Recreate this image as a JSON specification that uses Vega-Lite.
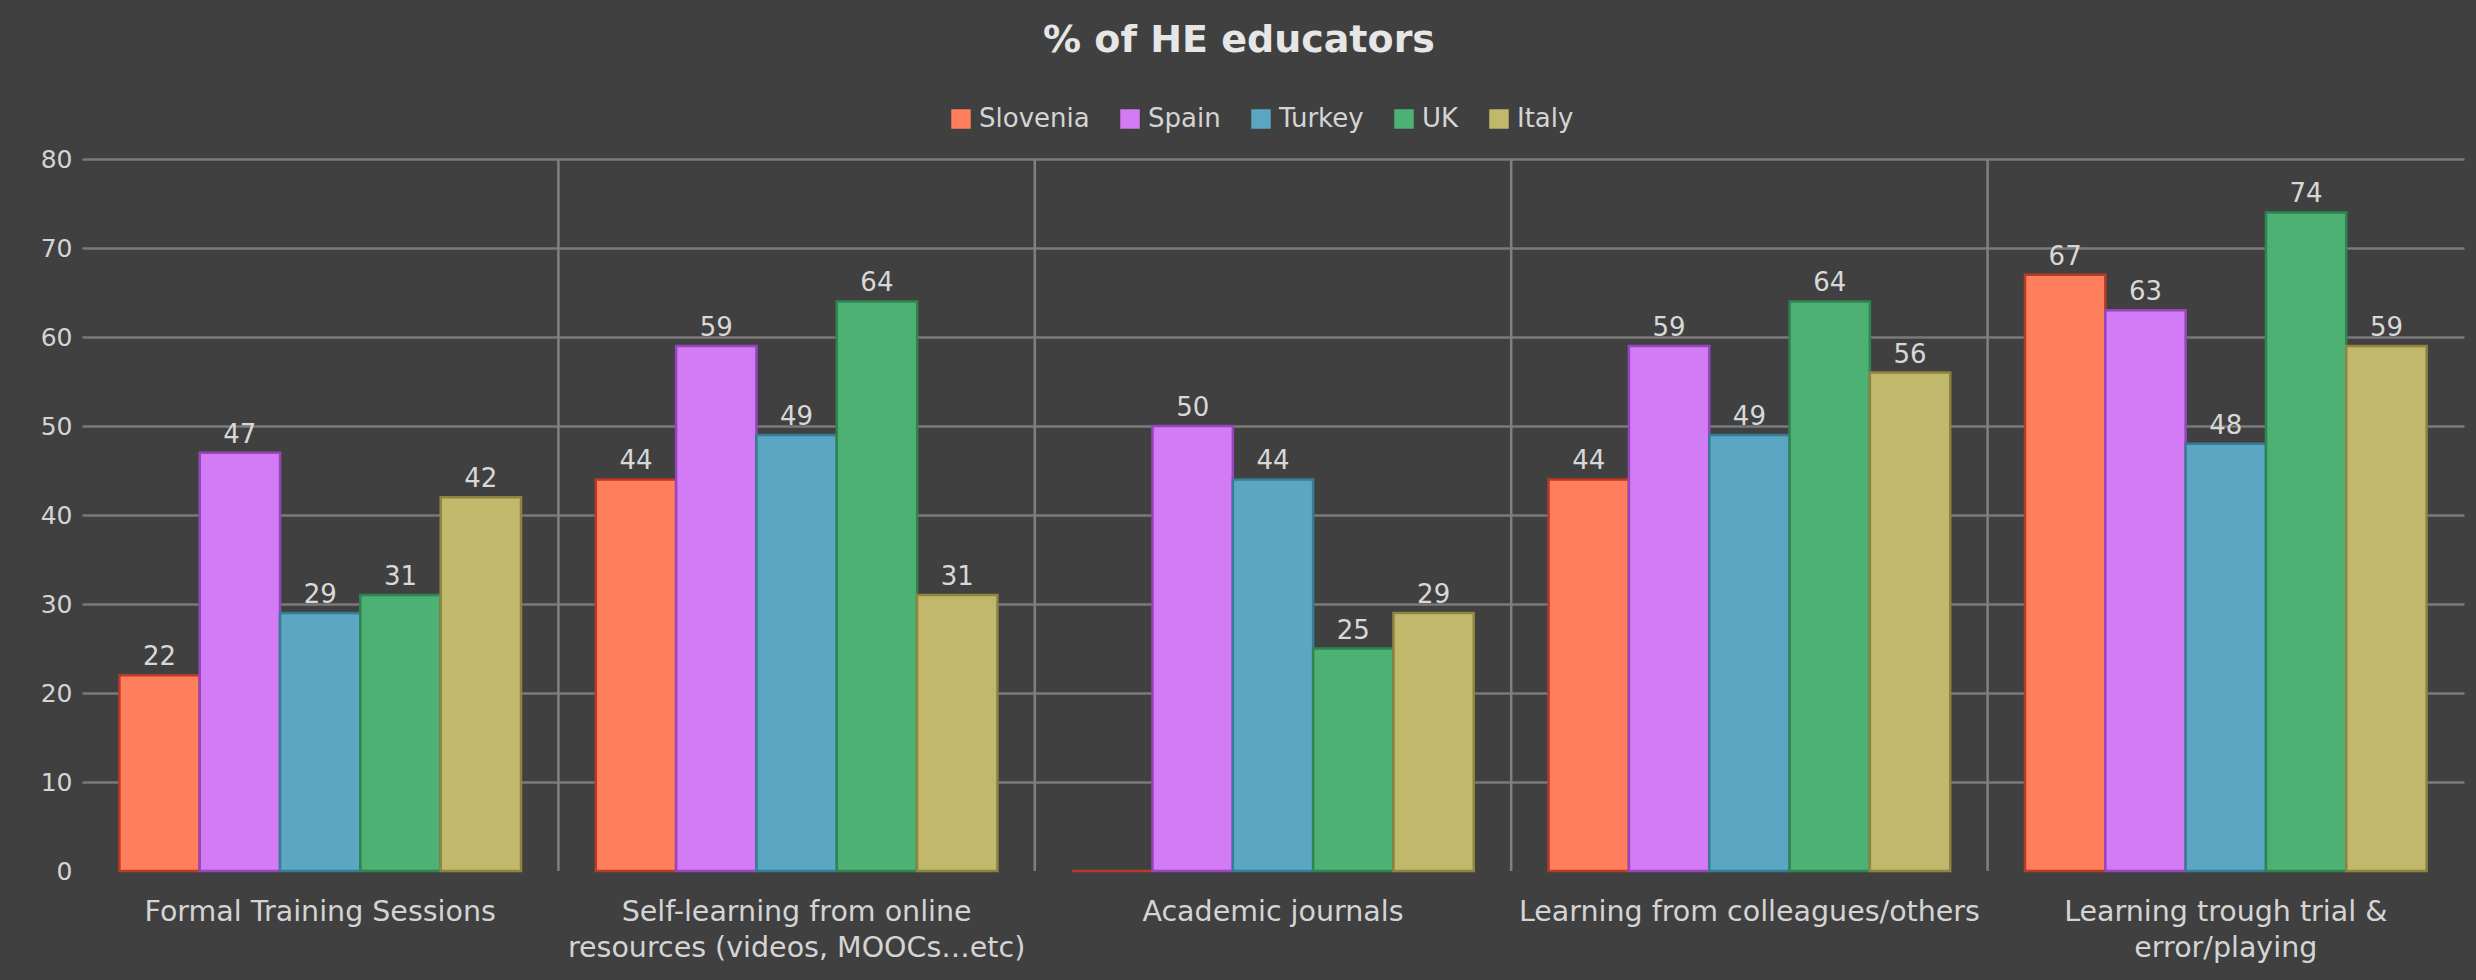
{
  "$schema": "https://vega.github.io/schema/vega-lite/v6.json",
  "autosize": {"type": "none"},
  "width": 2382,
  "height": 712,
  "padding": {"left": 82, "top": 159, "right": 12, "bottom": 109},
  "background": "#404040",
  "title": {
    "text": "% of HE educators",
    "fontSize": 38,
    "font": "DejaVu Sans",
    "fontWeight": "bold",
    "color": "#e6e6e6",
    "anchor": "middle",
    "frame": "group",
    "offset": 46,
    "dx": -34
  },
  "data": {
    "values": [
      {"category": "Formal Training Sessions", "country": "Slovenia", "value": 22},
      {"category": "Formal Training Sessions", "country": "Spain", "value": 47},
      {"category": "Formal Training Sessions", "country": "Turkey", "value": 29},
      {"category": "Formal Training Sessions", "country": "UK", "value": 31},
      {"category": "Formal Training Sessions", "country": "Italy", "value": 42},
      {"category": "Self-learning from online resources (videos, MOOCs…etc)", "country": "Slovenia", "value": 44},
      {"category": "Self-learning from online resources (videos, MOOCs…etc)", "country": "Spain", "value": 59},
      {"category": "Self-learning from online resources (videos, MOOCs…etc)", "country": "Turkey", "value": 49},
      {"category": "Self-learning from online resources (videos, MOOCs…etc)", "country": "UK", "value": 64},
      {"category": "Self-learning from online resources (videos, MOOCs…etc)", "country": "Italy", "value": 31},
      {"category": "Academic journals", "country": "Slovenia", "value": 0},
      {"category": "Academic journals", "country": "Spain", "value": 50},
      {"category": "Academic journals", "country": "Turkey", "value": 44},
      {"category": "Academic journals", "country": "UK", "value": 25},
      {"category": "Academic journals", "country": "Italy", "value": 29},
      {"category": "Learning from colleagues/others", "country": "Slovenia", "value": 44},
      {"category": "Learning from colleagues/others", "country": "Spain", "value": 59},
      {"category": "Learning from colleagues/others", "country": "Turkey", "value": 49},
      {"category": "Learning from colleagues/others", "country": "UK", "value": 64},
      {"category": "Learning from colleagues/others", "country": "Italy", "value": 56},
      {"category": "Learning trough trial & error/playing", "country": "Slovenia", "value": 67},
      {"category": "Learning trough trial & error/playing", "country": "Spain", "value": 63},
      {"category": "Learning trough trial & error/playing", "country": "Turkey", "value": 48},
      {"category": "Learning trough trial & error/playing", "country": "UK", "value": 74},
      {"category": "Learning trough trial & error/playing", "country": "Italy", "value": 59}
    ]
  },
  "layer": [
    {
      "mark": {"type": "bar", "strokeWidth": 2.5},
      "encoding": {
        "x": {
          "field": "category",
          "type": "nominal",
          "sort": null,
          "scale": {"paddingInner": 0.157, "paddingOuter": 0.0785},
          "axis": {
            "labelExpr": "datum.label == 'Self-learning from online resources (videos, MOOCs…etc)' ? ['Self-learning from online', 'resources (videos, MOOCs…etc)'] : datum.label == 'Learning trough trial & error/playing' ? ['Learning trough trial &', 'error/playing'] : datum.label"
          }
        },
        "xOffset": {
          "field": "country",
          "type": "nominal",
          "sort": ["Slovenia", "Spain", "Turkey", "UK", "Italy"],
          "scale": {"paddingInner": 0, "paddingOuter": 0}
        },
        "y": {
          "field": "value",
          "type": "quantitative",
          "scale": {"domain": [0, 80], "nice": false},
          "axis": {
            "values": [0, 10, 20, 30, 40, 50, 60, 70, 80],
            "gridOpacity": {"condition": {"test": "datum.value === 0", "value": 0}, "value": 1}
          }
        },
        "color": {
          "field": "country",
          "type": "nominal",
          "sort": ["Slovenia", "Spain", "Turkey", "UK", "Italy"],
          "scale": {
            "domain": ["Slovenia", "Spain", "Turkey", "UK", "Italy"],
            "range": ["#FF7F5C", "#D37AF5", "#5BA6C2", "#4CB173", "#C2B86B"]
          },
          "legend": {
            "title": null,
            "orient": "none",
            "legendX": 866,
            "legendY": -53,
            "direction": "horizontal",
            "symbolType": "square",
            "symbolSize": 380,
            "symbolStrokeWidth": 0,
            "labelFont": "DejaVu Sans",
            "labelFontSize": 26,
            "labelColor": "#d4d4d4",
            "labelOffset": 5,
            "columnPadding": 27
          }
        },
        "stroke": {
          "field": "country",
          "type": "nominal",
          "scale": {
            "domain": ["Slovenia", "Spain", "Turkey", "UK", "Italy"],
            "range": ["#B83A28", "#9446BC", "#377C92", "#2F8452", "#8E8442"]
          },
          "legend": null
        }
      }
    },
    {
      "transform": [{"filter": "datum.country === 'Italy' && datum.category !== 'Learning trough trial & error/playing'"}],
      "mark": {"type": "rule", "color": "#808080", "strokeWidth": 2.5},
      "encoding": {
        "x": {
          "field": "category", "type": "nominal", "bandPosition": 1.0931, "sort": null,
          "axis": {
            "labelExpr": "datum.label == 'Self-learning from online resources (videos, MOOCs…etc)' ? ['Self-learning from online', 'resources (videos, MOOCs…etc)'] : datum.label == 'Learning trough trial & error/playing' ? ['Learning trough trial &', 'error/playing'] : datum.label"
          }
        }
      }
    },
    {
      "transform": [{"filter": "datum.value > 0"}],
      "mark": {"type": "text", "baseline": "bottom", "dy": -5, "font": "DejaVu Sans", "fontSize": 26, "color": "#d8d8d8"},
      "encoding": {
        "x": {
          "field": "category", "type": "nominal", "sort": null,
          "axis": {
            "labelExpr": "datum.label == 'Self-learning from online resources (videos, MOOCs…etc)' ? ['Self-learning from online', 'resources (videos, MOOCs…etc)'] : datum.label == 'Learning trough trial & error/playing' ? ['Learning trough trial &', 'error/playing'] : datum.label"
          }
        },
        "xOffset": {"field": "country", "type": "nominal", "sort": ["Slovenia", "Spain", "Turkey", "UK", "Italy"]},
        "y": {
          "field": "value", "type": "quantitative",
          "axis": {
            "values": [0, 10, 20, 30, 40, 50, 60, 70, 80],
            "gridOpacity": {"condition": {"test": "datum.value === 0", "value": 0}, "value": 1}
          }
        },
        "text": {"field": "value", "type": "quantitative"}
      }
    }
  ],
  "config": {
    "view": {"stroke": null},
    "axisX": {
      "title": null,
      "domain": false,
      "ticks": false,
      "grid": false,
      "labelAngle": 0,
      "labelAlign": "center",
      "labelBaseline": "top",
      "labelFont": "DejaVu Sans",
      "labelFontSize": 28.5,
      "labelColor": "#d4d4d4",
      "labelPadding": 26,
      "labelLineHeight": 36,
      "labelLimit": 0,
      "labelOverlap": false
    },
    "axisY": {
      "title": null,
      "domain": false,
      "ticks": false,
      "labelOverlap": false,
      "labelFont": "DejaVu Sans",
      "labelFontSize": 25,
      "labelColor": "#d4d4d4",
      "labelPadding": 10,
      "gridColor": "#7a7a7a",
      "gridWidth": 2.5
    }
  }
}
